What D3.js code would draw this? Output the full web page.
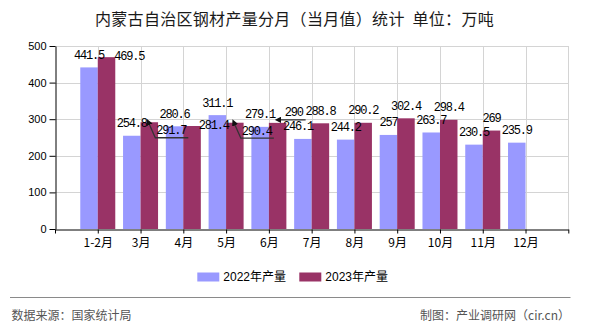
<!DOCTYPE html>
<html>
<head>
<meta charset="utf-8">
<script src="https://cdn.jsdelivr.net/npm/d3@7"></script>
<style>
  html, body { margin: 0; padding: 0; background: #ffffff; }
  svg { display: block; }
</style>
</head>
<body>
<svg id="chart" width="590" height="330"></svg>
<script>
// ---- data ----
const categories = ["1-2月", "3月", "4月", "5月", "6月", "7月", "8月", "9月", "10月", "11月", "12月"];
const values2022 = [441.5, 254.8, 280.6, 311.1, 279.1, 246.1, 244.2, 257, 263.7, 230.5, 235.9];
const values2023 = [469.5, 291.7, 281.4, 290.4, 290, 288.8, 290.2, 302.4, 298.4, 269, null];
const seriesNames = ["2022年产量", "2023年产量"];
const yTicks = [0, 100, 200, 300, 400, 500];
const titleText = "内蒙古自治区钢材产量分月（当月值）统计  单位：万吨";
const sourceText = "数据来源：国家统计局";
const creditText = "制图：产业调研网（cir.cn）";

// ---- layout / style ----
const colors = ["#9999FF", "#993366"];
const plotL = 55, plotR = 568.3, plotT = 46, plotB = 229;
const barW = 17.5;
const cjk = "'Noto Sans CJK SC', 'Noto Sans', sans-serif";
const mono = "'Liberation Mono', 'DejaVu Sans Mono', monospace";

const svg = d3.select("#chart");

const x = d3.scaleLinear().domain([0, categories.length + 1]).range([plotL, plotR]);
const y = d3.scaleLinear().domain([0, 500]).range([plotB, plotT]);

// title
svg.append("text")
  .attr("x", 294.5).attr("y", 24.5)
  .attr("text-anchor", "middle")
  .attr("font-family", cjk).attr("font-size", 16)
  .attr("letter-spacing", "0.3px")
  .attr("xml:space", "preserve")
  .style("white-space", "pre")
  .attr("fill", "#1a1a1a")
  .text(titleText);

// grid
const grid = svg.append("g");
grid.selectAll("line.h").data(yTicks.filter(d => d > 0)).join("line")
  .attr("x1", plotL).attr("x2", plotR)
  .attr("y1", d => Math.round(y(d)) + 0.5).attr("y2", d => Math.round(y(d)) + 0.5)
  .attr("stroke", "#d4d4d4");
grid.selectAll("line.v").data(d3.range(1, categories.length + 2)).join("line")
  .attr("x1", d => Math.round(x(d)) + 0.5).attr("x2", d => Math.round(x(d)) + 0.5)
  .attr("y1", plotT).attr("y2", plotB)
  .attr("stroke", "#d4d4d4");

// bars
const series = [values2022, values2023];
series.forEach((vals, s) => {
  svg.append("g").selectAll("rect").data(vals.map((v, i) => ({v, i})).filter(d => d.v != null)).join("rect")
    .attr("x", d => x(d.i + 1) + (s === 0 ? -barW : 0))
    .attr("y", d => y(d.v))
    .attr("width", barW)
    .attr("height", d => y(0) - y(d.v))
    .attr("fill", colors[s]);
});

// axes
const yAxis = svg.append("g")
  .attr("transform", `translate(${plotL + 0.5},0)`)
  .call(d3.axisLeft(y).tickValues(yTicks).tickSize(6).tickSizeOuter(0).tickPadding(3));
yAxis.selectAll("text").attr("font-family", "'Liberation Sans', Arial, sans-serif").attr("font-size", 11).attr("fill", "#000");
yAxis.selectAll("line,path").attr("stroke", "#000");

const xAxis = svg.append("g")
  .attr("transform", `translate(0,${plotB + 0.5})`)
  .call(d3.axisBottom(x).tickValues(d3.range(0, categories.length + 2))
    .tickFormat(i => categories[i - 1] || "").tickSize(4).tickSizeOuter(0).tickPadding(5));
xAxis.selectAll("text").attr("font-family", cjk).attr("font-size", 12).attr("fill", "#000");
xAxis.selectAll("line,path").attr("stroke", "#000");

// arrow marker
svg.append("defs").append("marker")
  .attr("id", "arr").attr("viewBox", "0 0 10 10")
  .attr("refX", 1).attr("refY", 5)
  .attr("markerWidth", 5).attr("markerHeight", 5)
  .attr("orient", "auto-start-reverse")
  .append("path").attr("d", "M0,0 L10,5 L0,10 z").attr("fill", "#111");

// data labels
const labelG = svg.append("g")
  .attr("font-family", mono).attr("font-size", 12).attr("letter-spacing", "-1.2px").attr("fill", "#000");
const fmt = v => String(v);

// placement rules for colliding labels (layout only)
const placement = [
  {5: {dx: -5}},
  {0: {type: "right", dx: -1}, 1: {type: "down"}, 2: {type: "right", dx: -2}, 3: {type: "down"}, 4: {type: "up"}}
];
const line = d3.line();

series.forEach((vals, s) => {
  vals.forEach((v, i) => {
    if (v == null) return;
    const cx = x(i + 1) + (s === 0 ? -barW / 2 : barW / 2);
    const ty = y(v);
    const p = placement[s][i] || {};
    if (p.type === "right") {
      labelG.append("text").attr("x", cx + barW / 2 + p.dx).attr("y", ty + 2.5).text(fmt(v));
    } else if (p.type === "down") {
      labelG.append("path")
        .attr("d", line([[cx, ty + 2], [cx + 6, ty + 15.5], [cx + 39, ty + 15.5]]))
        .attr("fill", "none").attr("stroke", "#333").attr("stroke-width", 1.3)
        .attr("marker-start", "url(#arr)");
      labelG.append("text").attr("x", cx + 7).attr("y", ty + 12).text(fmt(v));
    } else if (p.type === "up") {
      labelG.append("path")
        .attr("d", line([[cx + 3, ty - 3], [cx + 28, ty - 3]]))
        .attr("fill", "none").attr("stroke", "#333").attr("stroke-width", 1.3)
        .attr("marker-start", "url(#arr)");
      labelG.append("text").attr("x", cx + 7).attr("y", ty - 6.5).text(fmt(v));
    } else {
      labelG.append("text").attr("x", cx + (p.dx || 0)).attr("y", ty - 8.5)
        .attr("text-anchor", "middle").text(fmt(v));
    }
  });
});

// legend
const legend = svg.append("g");
const legendX = [197.3, 299.3];
seriesNames.forEach((name, s) => {
  legend.append("rect").attr("x", legendX[s]).attr("y", 272.5).attr("width", 22).attr("height", 9).attr("fill", colors[s]);
  legend.append("text").attr("x", legendX[s] + 26).attr("y", 281)
    .attr("font-family", "'Liberation Sans', " + cjk).attr("font-size", 12).attr("fill", "#000").text(name);
});

// footer
svg.append("line").attr("x1", 10).attr("x2", 570.5).attr("y1", 297.5).attr("y2", 297.5)
  .attr("stroke", "#8a8a8a").attr("stroke-width", 1.2);
svg.append("text").attr("x", 11.5).attr("y", 320)
  .attr("font-family", cjk).attr("font-size", 12).attr("fill", "#555").text(sourceText);
svg.append("text").attr("x", 570).attr("y", 320).attr("text-anchor", "end")
  .attr("font-family", cjk).attr("font-size", 12).attr("fill", "#555").text(creditText);
</script>
</body>
</html>
